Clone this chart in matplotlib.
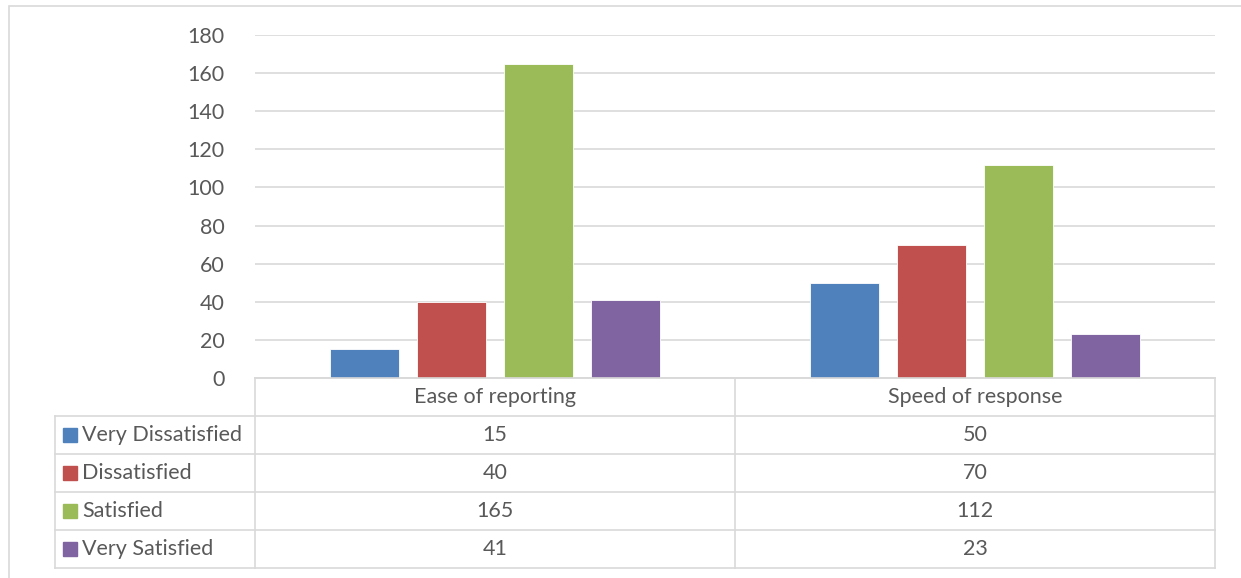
import matplotlib.pyplot as plt
from matplotlib.patches import Rectangle

plt.rcParams['font.family'] = ['Lato', 'DejaVu Sans']

categories = ['Ease of reporting', 'Speed of response']
series = ['Very Dissatisfied', 'Dissatisfied', 'Satisfied', 'Very Satisfied']
values = [
    [15, 50],
    [40, 70],
    [165, 112],
    [41, 23],
]
colors = ['#4F81BD', '#C0504D', '#9BBB59', '#8064A2']
yticks = [0, 20, 40, 60, 80, 100, 120, 140, 160, 180]

W, H = 1241, 578
text_color = '#595959'
grid_color = '#D9D9D9'
fs = 15.5

fig = plt.figure(figsize=(W / 100, H / 100), dpi=100)

def px_rect(x0, y0, x1, y1):
    # pixel box (top-left origin) -> figure fraction rect
    return [x0 / W, 1 - y1 / H, (x1 - x0) / W, (y1 - y0) / H]

# outer chart border
fig.patches.append(Rectangle((9 / W, -0.1), 1.2, 1 - 6 / H + 0.1,
                             transform=fig.transFigure, fill=False,
                             edgecolor=grid_color, lw=1.2))

ax = fig.add_axes(px_rect(255, 35, 1215, 378))
n = len(series)
bar_w = 0.144
step = 0.181
for i, (name, vals) in enumerate(zip(series, values)):
    xs = [c + 0.5 + (i - (n - 1) / 2) * step for c in range(len(categories))]
    ax.bar(xs, vals, width=bar_w, color=colors[i], edgecolor='white',
           linewidth=0.6, zorder=3, label=name)

ax.set_xlim(0, len(categories))
ax.set_ylim(0, 180)
ax.set_yticks(yticks)
ax.set_yticklabels([str(t) for t in yticks])
ax.set_xticks([])
ax.yaxis.grid(True, color=grid_color, lw=1.2, zorder=0)
ax.tick_params(axis='y', length=0, pad=22, labelsize=fs, labelcolor=text_color)
for side in ['top', 'right', 'left']:
    ax.spines[side].set_visible(False)
ax.spines['bottom'].set_color(grid_color)
ax.spines['bottom'].set_linewidth(1.2)

# data table under the plot
label_w = 200 / 480
tb = fig.add_axes(px_rect(55, 378, 1215, 568))
tb.set_xlim(-label_w, len(categories))
tb.set_ylim(len(series) + 1, 0)
tb.axis('off')
nrows = len(series) + 1
line_kw = dict(color=grid_color, lw=1.2, clip_on=False)
# horizontal lines
tb.plot([0, len(categories)], [0, 0], **line_kw)
for r in range(1, nrows + 1):
    tb.plot([-label_w, len(categories)], [r, r], **line_kw)
# vertical lines
tb.plot([-label_w, -label_w], [1, nrows], **line_kw)
for c in range(len(categories) + 1):
    tb.plot([c, c], [0, nrows], **line_kw)

for c, cat in enumerate(categories):
    tb.text(c + 0.5, 0.5, cat, ha='center', va='center', fontsize=fs,
            color=text_color)
for r, (name, vals) in enumerate(zip(series, values)):
    y = r + 1.5
    tb.add_patch(Rectangle((-label_w + 8 / 480, y - 0.18), 14 / 480, 0.36,
                           color=colors[r], clip_on=False))
    tb.text(-label_w + 27 / 480, y, name, ha='left', va='center',
            fontsize=fs, color=text_color)
    for c, v in enumerate(vals):
        tb.text(c + 0.5, y, str(v), ha='center', va='center', fontsize=fs,
                color=text_color)

fig.savefig('out.png', dpi=100)
